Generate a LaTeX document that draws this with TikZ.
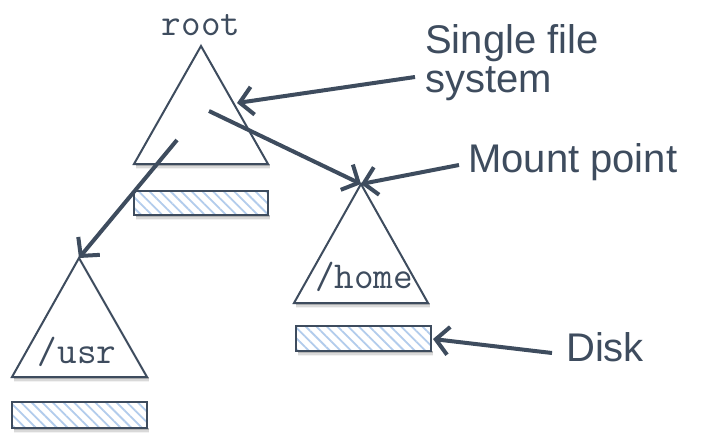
\documentclass[tikz,border=0pt]{standalone}
\usepackage{fontspec}
\setmainfont{Liberation Sans}
\usetikzlibrary{arrows.meta,patterns.meta}
\definecolor{ink}{RGB}{62,76,94}
\definecolor{hatch}{RGB}{178,204,236}
\begin{document}
\begin{tikzpicture}[x=1pt,y=-1pt,
  tri/.style={draw=ink,line width=2pt,fill=white,line join=miter},
  disk/.style={draw=ink,line width=2pt,pattern={Lines[angle=-45,distance=7.5pt,line width=1.8pt]},pattern color=hatch},
  mono/.style={inner sep=0pt,anchor=base,text=ink,font=\fontsize{38}{38}\selectfont\ttfamily},
  lbl/.style={inner sep=0pt,anchor=base west,text=ink,font=\fontsize{40}{40}\selectfont},
  arr/.style={draw=ink,line width=4pt,-{Straight Barb[length=13pt,width=28pt,line width=4pt]}}]
\useasboundingbox (0,0) rectangle (720,445);
\fill[white] (0,0) rectangle (720,445);

% coordinates of the three file-system triangles
\coordinate (rA) at (201,46);  \coordinate (rL) at (134,164); \coordinate (rR) at (268,164);
\coordinate (hA) at (361,184); \coordinate (hL) at (294,303); \coordinate (hR) at (428,303);
\coordinate (uA) at (79,258);  \coordinate (uL) at (12,377);  \coordinate (uR) at (147,377);

% shadows
\foreach \d/\o in {1/0.16,2.5/0.10,4/0.05}{
  \fill[black,opacity=\o] (136,164) rectangle (270,165+\d);
  \fill[black,opacity=\o] (296,303) rectangle (430,304+\d);
  \fill[black,opacity=\o] (14,377) rectangle (149,378+\d);
  \fill[black,opacity=\o] (136,215) rectangle (270,216+\d);
  \fill[black,opacity=\o] (298,351) rectangle (433,352+\d);
  \fill[black,opacity=\o] (14,428) rectangle (149,429+\d);
}

% triangles
\draw[tri] (rA) -- (rR) -- (rL) -- cycle;
\draw[tri] (hA) -- (hR) -- (hL) -- cycle;
\draw[tri] (uA) -- (uR) -- (uL) -- cycle;

% disks
\fill[white] (134,191) rectangle (268,215);
\fill[white] (296,326) rectangle (431,351);
\fill[white] (12,402) rectangle (147,428);
\draw[disk] (134,191) rectangle (268,215);
\draw[disk] (296,326) rectangle (431,351);
\draw[disk] (12,402) rectangle (147,428);
\coordinate (hdR) at (433,339);

% mono labels
\node[mono] (root) at (201,35) {root};
\node[mono] (home) at (364,288) {/home};
\node[mono] (usr) at (77,363) {/usr};

% sans labels
\node[lbl] (sfs1) at (425,53) {Single file};
\node[lbl] (sfs2) at (425,92) {system};
\node[lbl] (mp) at (468,172) {Mount point};
\node[lbl] (disk) at (566,361) {Disk};

% connector anchors
\coordinate (sfsS) at (415,77);
\coordinate (rSide) at (237,103);
\coordinate (rIn1) at (209,111);
\coordinate (rIn2) at (177,140);
\coordinate (mpS) at (459,165);
\coordinate (diskS) at (552,353);

% arrows
\draw[arr] (sfsS) -- (rSide);
\draw[arr] (rIn1) -- (hA);
\draw[arr] (mpS) -- (hA);
\draw[arr] (rIn2) -- (uA);
\draw[arr] (diskS) -- (hdR);
\end{tikzpicture}
\end{document}
